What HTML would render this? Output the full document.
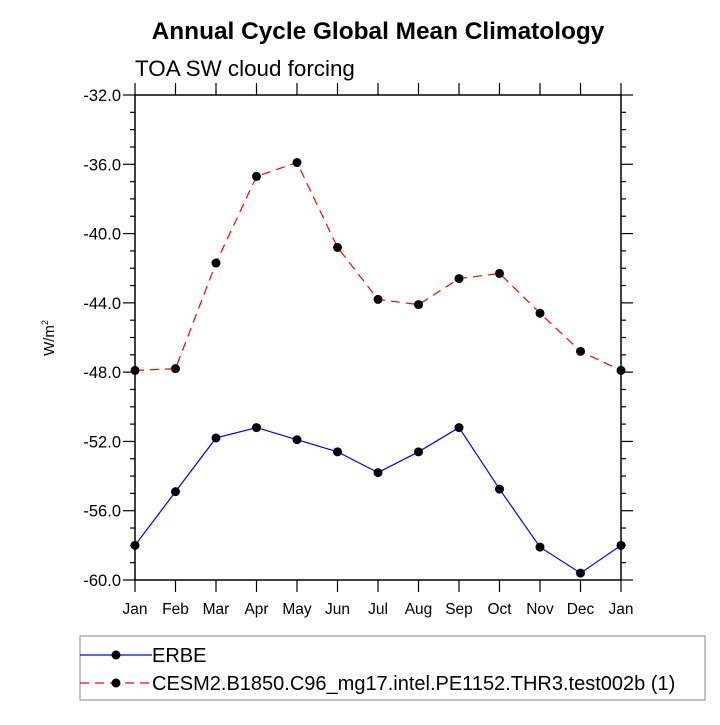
<!DOCTYPE html>
<html><head><meta charset="utf-8"><style>
body{margin:0;background:#fff}
svg text{font-family:"Liberation Sans",Helvetica,sans-serif;fill:#000}
</style></head><body>
<svg id="c" width="720" height="720">
<text x="378" y="39" font-size="24.4" font-weight="bold" text-anchor="middle">Annual Cycle Global Mean Climatology</text>
<text x="135" y="76" font-size="22.4">TOA SW cloud forcing</text>
<text transform="translate(54,338) rotate(-90)" font-size="15" text-anchor="middle">W/m<tspan dy="-6" font-size="9">2</tspan></text>
<g id="ax"></g>
<g id="series"></g>
<rect x="80" y="636" width="625" height="64" fill="none" stroke="#888" stroke-width="1"/>
<g>
<line x1="80" y1="655" x2="152" y2="655" stroke="#00f" stroke-width="1.2"/>
<circle cx="116" cy="655" r="4.5" fill="#000"/>
<text x="152" y="662" font-size="20">ERBE</text></g>
<g>
<line x1="80" y1="683" x2="152" y2="683" stroke="#f00" stroke-width="1.2" stroke-dasharray="9,6"/>
<circle cx="116" cy="683" r="4.5" fill="#000"/>
<text x="152" y="690" font-size="20">CESM2.B1850.C96_mg17.intel.PE1152.THR3.test002b (1)</text></g>
</svg>
<script>
const months=["Jan","Feb","Mar","Apr","May","Jun","Jul","Aug","Sep","Oct","Nov","Dec","Jan"];
const erbe=[-58.0,-54.9,-51.8,-51.2,-51.9,-52.6,-53.8,-52.6,-51.2,-54.75,-58.1,-59.6,-58.0];
const cesm=[-47.9,-47.8,-41.7,-36.7,-35.9,-40.8,-43.8,-44.1,-42.6,-42.3,-44.6,-46.8,-47.9];
const yTicks=[-32,-36,-40,-44,-48,-52,-56,-60];
const X0=135,X1=621,Y0=95,Y1=580,YMAX=-32,YMIN=-60;
const NS="http://www.w3.org/2000/svg";
function xs(i){return X0+(X1-X0)*i/(months.length-1);}
function ys(v){return Y0+(YMAX-v)/(YMAX-YMIN)*(Y1-Y0);}
function mk(t,a,p){const e=document.createElementNS(NS,t);for(const k in a)e.setAttribute(k,a[k]);p.appendChild(e);return e;}
const ax=document.getElementById('ax');
const frame=mk('rect',{x:X0,y:Y0,width:X1-X0,height:Y1-Y0,fill:'none',stroke:'#000','stroke-width':1.5},ax);


for(let v=YMIN;v<=YMAX;v++){
  const y=ys(v),maj=yTicks.includes(v),L=maj?12:5;
  mk('line',{x1:X0-L,y1:y,x2:X0,y2:y,stroke:'#000','stroke-width':1.2},ax);
  mk('line',{x1:X1,y1:y,x2:X1+L,y2:y,stroke:'#000','stroke-width':1.2},ax);
}
yTicks.forEach(v=>{
  const t=mk('text',{x:X0-14,y:ys(v)+6,'font-size':16.5,'text-anchor':'end'},ax);
  t.textContent=v.toFixed(1);
  
  
});
months.forEach((m,i)=>{
  const x=xs(i);
  mk('line',{x1:x,y1:Y1,x2:x,y2:Y1+12,stroke:'#000','stroke-width':1.2},ax);
  mk('line',{x1:x,y1:Y0-12,x2:x,y2:Y0,stroke:'#000','stroke-width':1.2},ax);
  const t=mk('text',{x:x,y:Y1+34,'font-size':15.5,'text-anchor':'middle'},ax);
  t.textContent=m;
  
  
});
const sg=document.getElementById('series');
function draw(vals,col,dash,name){
  const pts=vals.map((v,i)=>xs(i)+','+ys(v)).join(' ');
  const pl=mk('polyline',{points:pts,fill:'none',stroke:col,'stroke-width':1.2,'stroke-dasharray':dash},sg);
  
  
  vals.forEach((v,i)=>{
    const c=mk('circle',{cx:xs(i),cy:ys(v),r:4.5,fill:'#000'},sg);
    
    
  });
}
draw(erbe,'#00f','none','erbe');
draw(cesm,'#f00','9,6','cesm');
</script>
</body></html>
